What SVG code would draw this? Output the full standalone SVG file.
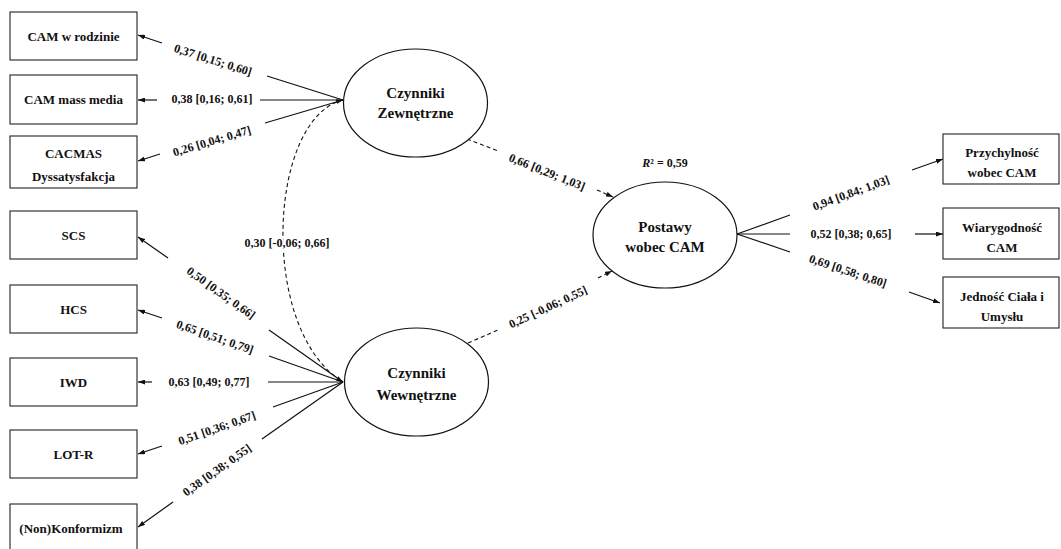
<svg xmlns="http://www.w3.org/2000/svg" width="1061" height="549" viewBox="0 0 1061 549">
<style>
text{font-family:"Liberation Serif","Times New Roman",serif;font-weight:bold;fill:#111}
.box{fill:#fff;stroke:#222;stroke-width:1.1}
.ell{fill:#fff;stroke:#111;stroke-width:1.2}
.bt{font-size:13px;text-anchor:middle}
.et{font-size:15px;text-anchor:middle}
.lb{font-size:12px;text-anchor:middle}
.ln{stroke:#111;stroke-width:1.2;fill:none}
.ds{stroke:#111;stroke-width:1.1;fill:none;stroke-dasharray:4 3}
.halo{stroke:#fff;stroke-width:4;paint-order:stroke}
</style>
<defs>
<marker id="ah" viewBox="0 0 7 5" refX="7" refY="2.5" markerWidth="7" markerHeight="5" markerUnits="userSpaceOnUse" orient="auto-start-reverse">
<path d="M0,0 L7,2.5 L0,5 z" fill="#111"/>
</marker>
</defs>
<rect width="1061" height="549" fill="#fff"/>

<g id="connectors">
<path class="ln" d="M343,100 L267,76"/><path class="ln" d="M162,43 L138,35" marker-end="url(#ah)"/>
<path class="ln" d="M343,100 L260,100"/><path class="ln" d="M157,100 L138,100" marker-end="url(#ah)"/>
<path class="ln" d="M343,100 L265,123"/><path class="ln" d="M160,154 L138,161" marker-end="url(#ah)"/>
<path class="ln" d="M343,382 L269,330"/><path class="ln" d="M168,258 L138,237" marker-end="url(#ah)"/>
<path class="ln" d="M343,382 L269,356"/><path class="ln" d="M162,318 L138,310" marker-end="url(#ah)"/>
<path class="ln" d="M343,382 L268,382"/><path class="ln" d="M152,382 L138,382" marker-end="url(#ah)"/>
<path class="ln" d="M343,382 L273,407"/><path class="ln" d="M162,446 L138,454" marker-end="url(#ah)"/>
<path class="ln" d="M343,382 L262,439"/><path class="ln" d="M173,502 L138,527" marker-end="url(#ah)"/>
<path class="ln" d="M737,234 L790,215"/><path class="ln" d="M912,170 L943,159" marker-end="url(#ah)"/>
<path class="ln" d="M737,234 L790,234"/><path class="ln" d="M915,234 L943,234" marker-end="url(#ah)"/>
<path class="ln" d="M737,234 L790,252"/><path class="ln" d="M909,292 L940,303" marker-end="url(#ah)"/>
<path class="ds" d="M467,139 L498,151"/><path class="ds" d="M597,190 L613,197" marker-end="url(#ah)"/>
<path class="ds" d="M468,343 L498,330"/><path class="ds" d="M598,278 L612,271" marker-end="url(#ah)"/>
<path class="ds" d="M343,100 C268,118 258,330 343,382" marker-start="url(#ah)" marker-end="url(#ah)"/>

<text class="lb" transform="translate(213,60) rotate(17.6)" y="4">0,37 [0,15; 0,60]</text>
<text class="lb" x="212" y="103">0,38 [0,16; 0,61]</text>
<text class="lb" transform="translate(212,141) rotate(-16.6)" y="4">0,26 [0,04; 0,47]</text>
<text class="lb" transform="translate(221,293) rotate(35.3)" y="4">0,50 [0,35; 0,66]</text>
<text class="lb" transform="translate(215,337) rotate(19.3)" y="4">0,65 [0,51; 0,79]</text>
<text class="lb" x="209" y="386">0,63 [0,49; 0,77]</text>
<text class="lb" transform="translate(217,428) rotate(-19.3)" y="4">0,51 [0,36; 0,67]</text>
<text class="lb" transform="translate(217,470) rotate(-35.3)" y="4">0,38 [0,38; 0,55]</text>
<text class="lb halo" x="287" y="247">0,30 [-0,06; 0,66]</text>
<text class="lb" transform="translate(547,172) rotate(21.7)" y="4">0,66 [0,29; 1,03]</text>
<text class="lb" transform="translate(548,307) rotate(-25)" y="4">0,25 [-0,06; 0,55]</text>
<text class="lb" transform="translate(851,193) rotate(-20.3)" y="4">0,94 [0,84; 1,03]</text>
<text class="lb" x="851" y="238">0,52 [0,38; 0,65]</text>
<text class="lb" transform="translate(848,271) rotate(18.5)" y="4">0,69 [0,58; 0,80]</text>
<text class="lb" x="665" y="167"><tspan font-style="italic">R</tspan>² = 0,59</text>
</g>

<g id="n-cam-rodzinie"><rect class="box" x="10" y="12" width="127" height="48"/><text class="bt" x="73.5" y="40.5">CAM w rodzinie</text></g>
<g id="n-cam-media"><rect class="box" x="10" y="75" width="127" height="49"/><text class="bt" x="73.5" y="104">CAM mass media</text></g>
<g id="n-cacmas"><rect class="box" x="10" y="136" width="127" height="52"/><text class="bt" x="73.5" y="158">CACMAS</text><text class="bt" x="73.5" y="181">Dyssatysfakcja</text></g>
<g id="n-scs"><rect class="box" x="10" y="211" width="127" height="48"/><text class="bt" x="73.5" y="239.5">SCS</text></g>
<g id="n-hcs"><rect class="box" x="10" y="285" width="127" height="48"/><text class="bt" x="73.5" y="313.5">HCS</text></g>
<g id="n-iwd"><rect class="box" x="10" y="358" width="127" height="48"/><text class="bt" x="73.5" y="386.5">IWD</text></g>
<g id="n-lotr"><rect class="box" x="10" y="430" width="127" height="48"/><text class="bt" x="73.5" y="458.5">LOT-R</text></g>
<g id="n-konformizm"><rect class="box" x="10" y="504" width="127" height="50"/><text class="bt" x="71" y="532.5">(Non)Konformizm</text></g>

<g id="n-zewnetrzne"><ellipse class="ell" cx="415.5" cy="103" rx="72" ry="54"/><text class="et" x="415.5" y="98">Czynniki</text><text class="et" x="415.5" y="118">Zewnętrzne</text></g>
<g id="n-wewnetrzne"><ellipse class="ell" cx="416.5" cy="382" rx="72" ry="54"/><text class="et" x="416.5" y="378">Czynniki</text><text class="et" x="416.5" y="400">Wewnętrzne</text></g>
<g id="n-postawy"><ellipse class="ell" cx="665" cy="235" rx="72" ry="53"/><text class="et" x="665" y="232">Postawy</text><text class="et" x="665" y="252">wobec CAM</text></g>

<g id="n-przychylnosc"><rect class="box" x="943" y="134" width="116" height="50"/><text class="bt" x="1002" y="157">Przychylność</text><text class="bt" x="1002" y="177">wobec CAM</text></g>
<g id="n-wiarygodnosc"><rect class="box" x="943" y="208" width="116" height="51"/><text class="bt" x="1002" y="232">Wiarygodność</text><text class="bt" x="1002" y="252">CAM</text></g>
<g id="n-jednosc"><rect class="box" x="943" y="277" width="116" height="51"/><text class="bt" x="1002" y="301">Jedność Ciała i</text><text class="bt" x="1002" y="321">Umysłu</text></g>
</svg>
